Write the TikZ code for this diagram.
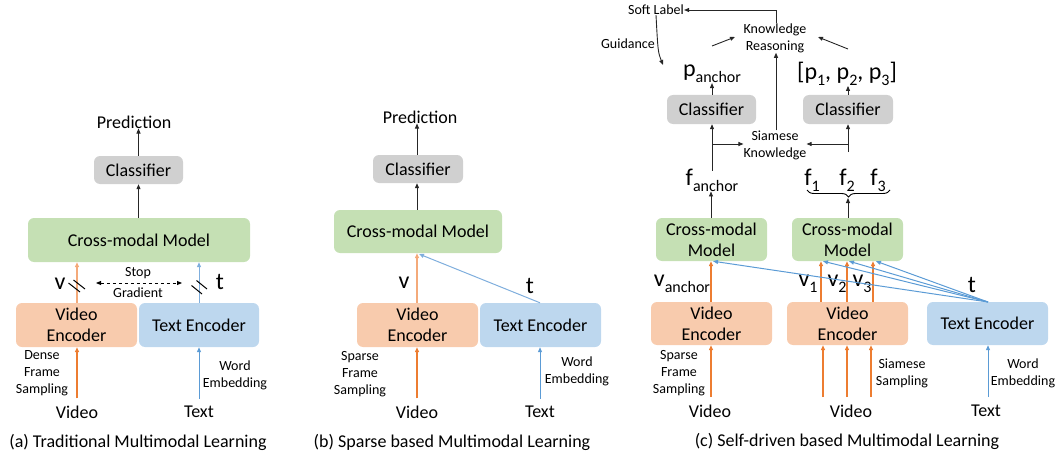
\documentclass[tikz,border=0pt]{standalone}
\usepackage{fontspec}
\setmainfont{Carlito}
\usetikzlibrary{arrows.meta,decorations.pathreplacing,calc}
\definecolor{boxor}{HTML}{F8CBAD}
\definecolor{boxbl}{HTML}{BDD7EE}
\definecolor{boxgr}{HTML}{C5E0B4}
\definecolor{boxgy}{HTML}{D0D0D0}
\definecolor{lnor}{HTML}{ED7D31}
\definecolor{lnorlt}{HTML}{F4AA7A}
\definecolor{lnbl}{HTML}{5B9BD5}
\definecolor{lnbllt}{HTML}{7FAEDD}
\definecolor{lnbk}{HTML}{262626}
\newcommand\fsz[2]{\fontsize{#1}{#2}\selectfont}
\newcommand\lowsub[1]{\raisebox{-6pt}{\fsz{16}{16}\selectfont #1}}
\begin{document}
\begin{tikzpicture}[x=1pt,y=-1pt,
  box/.style={rounded corners=6pt,inner sep=0pt,align=center,font=\fsz{18}{21}},
  lbl/.style={inner sep=0pt,align=center,font=\fsz{18}{21}},
  small/.style={inner sep=0pt,align=center,font=\fsz{14}{17}},
  big/.style={inner sep=0pt,font=\fsz{24}{26}},
  ahead/.style={-{Triangle[length=5pt,width=4pt]}},
  karr/.style={ahead,draw=lnbk,line width=0.9pt},
  oarr/.style={ahead,draw=lnor,line width=1.3pt},
  oarrlt/.style={ahead,draw=lnorlt,line width=1.3pt},
  barr/.style={ahead,draw=lnbl,line width=1pt},
  barrlt/.style={ahead,draw=lnbllt,line width=1pt},
  slash/.style={draw=black,line width=1pt}]
\useasboundingbox (0,0) rectangle (1058,452);

% ---------------- panel (a)
\node[lbl] (predA) at (134,122) {Prediction};
\node[box,fill=boxgy,minimum width=89pt,minimum height=28pt] (clsA) at (138.5,170) {Classifier};
\node[box,fill=boxgr,minimum width=222pt,minimum height=44pt] (cmA) at (139,240) {Cross-modal Model};
\node[box,fill=boxor,minimum width=121pt,minimum height=44pt] (veA) at (76.5,325) {Video\\Encoder};
\node[box,fill=boxbl,minimum width=120pt,minimum height=44pt] (teA) at (199,325) {Text Encoder};
\node[small] (dfsA) at (42,373) {Dense\\Frame\\Sampling};
\node[small] (weA) at (235,375.5) {Word\\Embedding};
\node[lbl] (vidA) at (77,412) {Video};
\node[lbl] (txtA) at (199,412) {Text};
\node[big] (vA) at (60,284) {v};
\node[big] (tA) at (220,282) {t};
\node[small] (stopA) at (138,273) {Stop};
\node[small] (gradA) at (138,293) {Gradient};
\coordinate (sgL) at (96,283);
\coordinate (sgR) at (182,283);

\draw[karr] (clsA.north) -- (clsA.north |- predA.south);
\draw[karr] (cmA.north -| clsA.north) -- (clsA.south);
\draw[oarrlt] (veA.north -| vidA.north) -- (cmA.south -| vidA.north);
\draw[barrlt] (teA.north) -- (cmA.south -| teA.north);
\draw[oarr] ([yshift=7pt]vidA.north) -- (veA.south -| vidA.north);
\draw[barr] ([yshift=7pt]txtA.north) -- (teA.south -| txtA.north);
\draw[dashed,line width=0.9pt,{Triangle[length=5pt,width=4pt]}-{Triangle[length=5pt,width=4pt]}] (sgL) -- (sgR);
\draw[slash] (68.5,283) -- (80,292);
\draw[slash] (73.5,280) -- (85,289);
\draw[slash] (191.5,285.5) -- (202,294);
\draw[slash] (196.5,280.5) -- (207,289);
\node[lbl] (capA) at (138,442) {(a) Traditional Multimodal Learning};

% ---------------- panel (b)
\node[lbl] (predB) at (420,117) {Prediction};
\node[box,fill=boxgy,minimum width=90pt,minimum height=28pt] (clsB) at (418,169) {Classifier};
\node[box,fill=boxgr,minimum width=168pt,minimum height=43pt] (cmB) at (418,231.5) {Cross-modal Model};
\node[box,fill=boxor,minimum width=121pt,minimum height=44pt] (veB) at (417.5,325) {Video\\Encoder};
\node[box,fill=boxbl,minimum width=121pt,minimum height=44pt] (teB) at (540.5,325) {Text Encoder};
\node[small] (sfsB) at (360,374) {Sparse\\Frame\\Sampling};
\node[small] (weB) at (577,371.5) {Word\\Embedding};
\node[lbl] (vidB) at (417,412) {Video};
\node[lbl] (txtB) at (540,412) {Text};
\node[big] (vB) at (404,283) {v};
\node[big] (tB) at (530,286) {t};
\coordinate (tinB) at (419,254);

\draw[karr] (clsB.north -| 417,0) -- (predB.south -| 417,0);
\draw[karr] (cmB.north -| 417,0) -- (clsB.south -| 417,0);
\draw[oarrlt] (veB.north -| vidB.north) -- (cmB.south -| vidB.north);
\draw[barrlt] (teB.north -| txtB.north) -- (tinB);
\draw[oarr] ([yshift=7pt]vidB.north) -- (veB.south -| vidB.north);
\draw[barr] ([yshift=7pt]txtB.north) -- (teB.south -| txtB.north);
\node[lbl] (capB) at (452,442) {(b) Sparse based Multimodal Learning};

% ---------------- panel (c)
\node[small] (soft) at (656,10) {Soft Label};
\node[small] (kr) at (775,38) {Knowledge\\Reasoning};
\node[small] (guid) at (628,44) {Guidance};
\node[big] (panc) at (712,74) {p\lowsub{anchor}};
\node[big] (pset) at (847,74) {[p\lowsub{1}, p\lowsub{2}, p\lowsub{3}]};
\node[box,fill=boxgy,minimum width=89pt,minimum height=29pt] (clsL) at (711.5,109.5) {Classifier};
\node[box,fill=boxgy,minimum width=90pt,minimum height=29pt] (clsR) at (848,109.5) {Classifier};
\node[small] (sk) at (775,145) {Siamese\\Knowledge};
\node[big] (fanc) at (712,180) {f\lowsub{anchor}};
\node[big] (f1) at (812,180) {f\lowsub{1}};
\node[big] (f2) at (847,180) {f\lowsub{2}};
\node[big] (f3) at (878,180) {f\lowsub{3}};
\node[box,fill=boxgr,minimum width=111pt,minimum height=43pt] (cmL) at (711.5,239.5) {Cross-modal\\Model};
\node[box,fill=boxgr,minimum width=111pt,minimum height=43pt] (cmR) at (847.5,239.5) {Cross-modal\\Model};
\node[box,fill=boxor,minimum width=121pt,minimum height=43pt] (veL) at (711.5,323.5) {Video\\Encoder};
\node[box,fill=boxor,minimum width=121pt,minimum height=43pt] (veM) at (847.5,323.5) {Video\\Encoder};
\node[box,fill=boxbl,minimum width=121pt,minimum height=43pt] (teC) at (987.5,323.5) {Text Encoder};
\node[big] (vanc) at (682,284) {v\lowsub{anchor}};
\node[big] (v1) at (808,284) {v\lowsub{1}};
\node[big] (v2) at (837,284) {v\lowsub{2}};
\node[big] (v3) at (862,284) {v\lowsub{3}};
\node[big] (tC) at (972,285) {t};
\node[small] (sfsC) at (679,373.5) {Sparse\\Frame\\Sampling};
\node[small] (ssC) at (902,373.5) {Siamese\\Sampling};
\node[small] (weC) at (1023,373.5) {Word\\Embedding};
\node[lbl] (vidL) at (710,411) {Video};
\node[lbl] (vidM) at (851,411) {Video};
\node[lbl] (txtC) at (986,411) {Text};
\node[lbl] (capC) at (847,441) {(c) Self-driven based Multimodal Learning};

\coordinate (gEnd) at (663,65);
\coordinate (kaL) at (712,46);
\coordinate (kbL) at (735,37);
\coordinate (kaR) at (848,49);
\coordinate (kbR) at (818,37);
\coordinate (brL) at (807,190);
\coordinate (brR) at (890,190);
\coordinate (brTip) at (848,198);
\coordinate (tsrc) at (988,302);

\draw[karr] (kr.north -| 776,0) |- (soft.east);
\draw[karr] (soft.south) .. controls (658,52) .. (gEnd);
\draw[karr] (kaL) -- (kbL);
\draw[karr] (kaR) -- (kbR);
\draw[karr] (clsL.north -| 712,0) -- (panc.south -| 712,0);
\draw[karr] (clsR.north) -- (clsR.north |- pset.south);
\draw[karr] (sk.north -| 776,0) -- (kr.south -| 776,0);
\draw[karr] ([yshift=-2pt]fanc.north -| 712,0) -- (clsL.south -| 712,0);
\draw[karr] (712,144) -- (sk.west |- 0,144);
\draw[karr] (848,144) -- (sk.east |- 0,144);
\draw[karr] (848,152) -- (clsR.south -| 848,0);
\draw[decorate,decoration={brace,amplitude=7pt,mirror},line width=0.9pt] (brL) -- (brR);
\draw[karr] (cmL.north -| 711,0) -- (fanc.south -| 711,0);
\draw[karr] (cmR.north -| 848,0) -- (brTip);

\draw[oarr] (veL.north -| 711,0) -- (cmL.south -| 711,0);
\draw[oarr] (veM.north -| 821,0) -- (cmR.south -| 821,0);
\draw[oarr] (veM.north -| 847,0) -- (cmR.south -| 847,0);
\draw[oarr] (veM.north -| 873,0) -- (cmR.south -| 873,0);
\draw[barr] (tsrc) -- (cmL.south -| 713,0);
\draw[barr] (tsrc) -- (cmR.south -| 823,0);
\draw[barr] (tsrc) -- (cmR.south -| 849,0);
\draw[barr] (tsrc) -- (cmR.south -| 876,0);

\draw[oarr] (711,397) -- (veL.south -| 711,0);
\draw[oarr] (823,397) -- (veM.south -| 823,0);
\draw[oarr] (847,397) -- (veM.south -| 847,0);
\draw[oarr] (871,397) -- (veM.south -| 871,0);
\draw[barr] (988,397) -- (teC.south -| 988,0);
\end{tikzpicture}
\end{document}
